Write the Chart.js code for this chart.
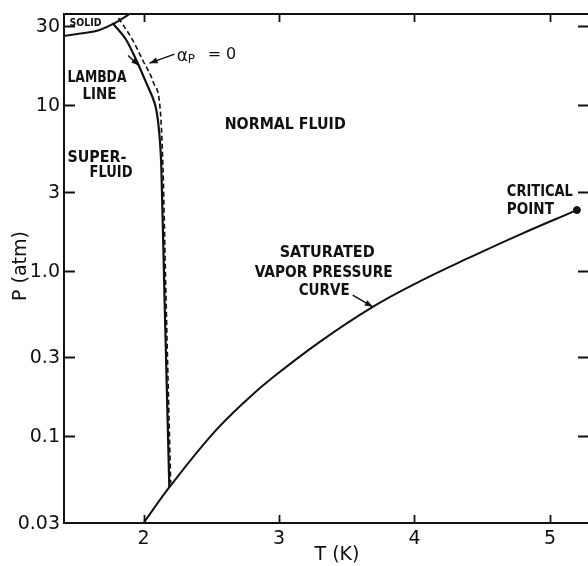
<!DOCTYPE html>
<html>
<head>
<meta charset="utf-8">
<script src="https://cdn.jsdelivr.net/npm/chart.js@4.4.1/dist/chart.umd.min.js"></script>
<style>
  html, body { margin: 0; padding: 0; background: #fff; }
  canvas { display: block; }
</style>
</head>
<body>
<canvas id="phase" width="588" height="566"></canvas>
<script>
// He-4 phase diagram, T in K, P in atm

// lambda line (superfluid transition)
const lambdaT = [1.77, 1.872, 1.946, 2.02, 2.081, 2.094, 2.111, 2.131, 2.155, 2.19];
const lambdaP = [31.3, 24.7, 18.7, 13.6, 10.3, 9.33, 7.43, 4.23, 0.665, 0.0495];

// alpha_P = 0 line (dashed)
const alphaT = [1.815, 1.919, 1.993, 2.074, 2.123, 2.143, 2.166, 2.2];
const alphaP = [33.5, 24.7, 18.7, 13.6, 9.33, 4.23, 0.665, 0.0523];

// melting curve (solid / liquid)
const meltT = [1.41, 1.549, 1.675, 1.80, 1.90];
const meltP = [26.1, 27.1, 28.4, 31.7, 35.6];

// saturated vapor pressure curve
const vaporT = [2.0, 2.192, 2.51, 2.761, 2.953, 3.301, 3.692, 4.039, 4.409, 4.778, 5.199];
const vaporP = [0.030, 0.0495, 0.1035, 0.166, 0.2266, 0.3722, 0.605, 0.862, 1.203, 1.652, 2.322];

// critical point
const critT = [5.199];
const critP = [2.322];

// axes
const xTicks = [2, 3, 4, 5];
const xTickLabels = ['2', '3', '4', '5'];
const yTicks = [0.03, 0.1, 0.3, 1, 3, 10, 30];
const yTickLabels = ['0.03', '0.1', '0.3', '1.0', '3', '10', '30'];

// text labels inside the plot (t, p = left edge / middle of the text)
const notes = [
  { text: 'SOLID', t: 1.453, p: 31.7, w: 32, size: 11 },
  { text: 'LAMBDA', t: 1.438, p: 14.7, w: 59, size: 15 },
  { text: 'LINE', t: 1.549, p: 11.7, w: 34, size: 15 },
  { text: 'NORMAL FLUID', t: 2.599, p: 7.68, w: 121, size: 16 },
  { text: 'SUPER-', t: 1.438, p: 4.82, w: 59, size: 15 },
  { text: 'FLUID', t: 1.601, p: 3.94, w: 43, size: 15 },
  { text: 'SATURATED', t: 3.005, p: 1.30, w: 95, size: 16 },
  { text: 'VAPOR PRESSURE', t: 2.82, p: 0.982, w: 138, size: 16 },
  { text: 'CURVE', t: 3.145, p: 0.765, w: 51, size: 16 },
  { text: 'CRITICAL', t: 4.682, p: 3.03, w: 66, size: 15 },
  { text: 'POINT', t: 4.682, p: 2.36, w: 47, size: 15 }
];

const arrows = [
  { from: [1.885, 19.9], to: [1.967, 17.3] },
  { from: [2.229, 20.3], to: [2.044, 17.9] },
  { from: [3.544, 0.713], to: [3.692, 0.605] }
];

const INK = '#111';
const FONT = '"DejaVu Sans", "Liberation Sans", sans-serif';

const pts = (xs, ys) => xs.map((x, i) => ({ x, y: ys[i] }));

const curve = (xs, ys, extra) => Object.assign({
  data: pts(xs, ys),
  showLine: true,
  borderColor: INK,
  borderWidth: 2,
  pointRadius: 0,
  tension: 0.4,
  fill: false,
  clip: 0
}, extra);

// draws text squeezed/stretched to a given width
function fitText(ctx, text, x, y, w) {
  const natural = ctx.measureText(text).width;
  ctx.save();
  ctx.translate(x, y);
  ctx.scale(w / natural, 1);
  ctx.fillText(text, 0, 0);
  ctx.restore();
}

function arrowHead(ctx, x0, y0, x1, y1) {
  const a = Math.atan2(y1 - y0, x1 - x0);
  const len = 8, half = 3;
  ctx.beginPath();
  ctx.moveTo(x1, y1);
  ctx.lineTo(x1 - len * Math.cos(a) + half * Math.sin(a), y1 - len * Math.sin(a) - half * Math.cos(a));
  ctx.lineTo(x1 - len * Math.cos(a) - half * Math.sin(a), y1 - len * Math.sin(a) + half * Math.cos(a));
  ctx.closePath();
  ctx.fill();
}

const framePlugin = {
  id: 'frame',
  afterDraw(chart) {
    const { ctx, chartArea: a, scales } = chart;
    const xs = scales.x, ys = scales.y;
    ctx.save();
    ctx.strokeStyle = INK;
    ctx.fillStyle = INK;
    ctx.lineWidth = 2;

    // border: left, top, bottom
    ctx.beginPath();
    ctx.moveTo(a.right, a.top);
    ctx.lineTo(a.left, a.top);
    ctx.lineTo(a.left, a.bottom);
    ctx.lineTo(a.right, a.bottom);
    ctx.stroke();

    // inward ticks
    ctx.lineWidth = 1.8;
    ctx.beginPath();
    yTicks.forEach(v => {
      if (v === ys.min) return;
      const y = Math.round(ys.getPixelForValue(v)) + 0.5;
      ctx.moveTo(a.left, y); ctx.lineTo(a.left + 11, y);
      ctx.moveTo(a.right, y); ctx.lineTo(a.right - 10, y);
    });
    xTicks.forEach(v => {
      const x = Math.round(xs.getPixelForValue(v)) + 0.5;
      ctx.moveTo(x, a.bottom); ctx.lineTo(x, a.bottom - 8);
      ctx.moveTo(x, a.top); ctx.lineTo(x, a.top + 8);
    });
    ctx.stroke();

    // tick labels
    ctx.font = '19px ' + FONT;
    ctx.textBaseline = 'middle';
    ctx.textAlign = 'right';
    yTicks.forEach((v, i) => {
      ctx.fillText(yTickLabels[i], a.left - 4, ys.getPixelForValue(v) + 1);
    });
    ctx.textAlign = 'center';
    xTicks.forEach((v, i) => {
      ctx.fillText(xTickLabels[i], xs.getPixelForValue(v), a.bottom + 16);
    });

    // axis titles
    ctx.fillText('T (K)', 337, 555);
    ctx.save();
    ctx.translate(21, 266);
    ctx.rotate(-Math.PI / 2);
    ctx.fillText('P (atm)', 0, 0);
    ctx.restore();

    // labels inside the plot
    ctx.textAlign = 'left';
    notes.forEach(n => {
      ctx.font = 'bold ' + n.size + 'px ' + FONT;
      fitText(ctx, n.text, xs.getPixelForValue(n.t), ys.getPixelForValue(n.p) + 1, n.w);
    });

    // alpha_P = 0
    const ax = xs.getPixelForValue(2.244), ay = ys.getPixelForValue(19.5);
    ctx.font = '17px ' + FONT;
    ctx.fillText('\u03b1', ax, ay);
    ctx.font = '12px ' + FONT;
    ctx.fillText('P', ax + 11, ay + 3);
    ctx.font = '16px ' + FONT;
    ctx.fillText('= 0', ax + 31, ay - 2);

    // leader arrows
    ctx.lineWidth = 1.5;
    arrows.forEach(ar => {
      const x0 = xs.getPixelForValue(ar.from[0]), y0 = ys.getPixelForValue(ar.from[1]);
      const x1 = xs.getPixelForValue(ar.to[0]), y1 = ys.getPixelForValue(ar.to[1]);
      ctx.beginPath();
      ctx.moveTo(x0, y0);
      ctx.lineTo(x1, y1);
      ctx.stroke();
      arrowHead(ctx, x0, y0, x1, y1);
    });
    ctx.restore();
  }
};

new Chart(document.getElementById('phase'), {
  type: 'scatter',
  data: {
    datasets: [
      curve(meltT, meltP),
      curve(lambdaT, lambdaP, { borderWidth: 2.2, tension: 0, cubicInterpolationMode: 'monotone' }),
      curve(alphaT, alphaP, { borderWidth: 1.6, borderDash: [5, 3], tension: 0, cubicInterpolationMode: 'monotone' }),
      curve(vaporT, vaporP),
      {
        data: pts(critT, critP),
        pointRadius: 3.5,
        pointBackgroundColor: INK,
        pointBorderColor: INK,
        clip: false
      }
    ]
  },
  options: {
    responsive: false,
    animation: false,
    layout: { autoPadding: false, padding: { left: 64, top: 14, right: 0, bottom: 43 } },
    scales: {
      x: { type: 'linear', min: 1.4125, max: 5.281, display: false },
      y: { type: 'logarithmic', min: 0.03, max: 35.44, display: false }
    },
    plugins: {
      legend: { display: false },
      tooltip: { enabled: false }
    }
  },
  plugins: [framePlugin]
});
</script>
</body>
</html>
